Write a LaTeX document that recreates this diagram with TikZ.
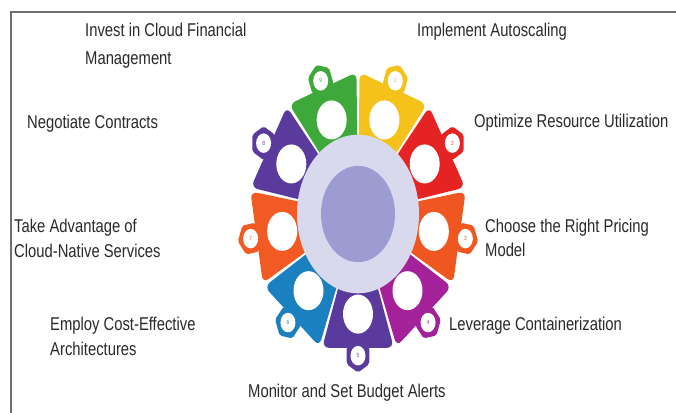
\documentclass[tikz,border=0pt]{standalone}
\usepackage{fontspec}
\setmainfont{Liberation Sans}[FakeStretch=0.8]
\begin{document}
\definecolor{segA}{HTML}{F5C21B}
\definecolor{segB}{HTML}{E52322}
\definecolor{segC}{HTML}{F0561F}
\definecolor{segD}{HTML}{A3229A}
\definecolor{segE}{HTML}{5B3A9E}
\definecolor{segF}{HTML}{1B80C0}
\definecolor{segG}{HTML}{F15A22}
\definecolor{segH}{HTML}{5A3A9C}
\definecolor{segI}{HTML}{3EA93A}
\definecolor{rimlav}{HTML}{D9D9EE}
\definecolor{hublav}{HTML}{9C9CD3}
\definecolor{labelgray}{HTML}{2A2A2A}
\definecolor{framegray}{HTML}{6E6E6E}
\begin{tikzpicture}[x=1pt,y=1pt,
  lbl/.style={anchor=base west,inner sep=0pt,text=labelgray,
    font=\fontsize{18.5}{26}\selectfont},
  numtag/.style={inner sep=0pt,font=\fontsize{6}{6}\selectfont}]
\useasboundingbox (0,0) rectangle (676,412);
\fill[white] (0,0) rectangle (676,412);
% frame
\draw[framegray,line width=1.4] (11,-5) -- (11,400) -- (690,400);

% wheel of nine pieces
\begin{scope}[shift={(358,198)},yscale=1.3]
  \foreach \k/\c in {1/segA,2/segB,3/segC,4/segD,5/segE,6/segF,7/segG,8/segH,9/segI}{
    \pgfmathsetmacro\a{110-40*\k}
    % block
    \fill[\c,rounded corners=7] (\a-19.2:30) -- (\a-19.2:109) -- (\a+19.2:109) -- (\a+19.2:30) -- cycle;
    % hexagonal tab
    \fill[\c,rounded corners=2] (\a:109)
      +(\a:13) -- +(\a+60:13) -- +(\a+120:13) -- +(\a+180:13)
      -- +(\a+240:13) -- +(\a+300:13) -- cycle;
    \fill[white] (\a:109) circle (7.5);
    \node[numtag,text=\c!70!gray] (n\k) at (\a:109) {\k};
    % hole
    \fill[white] (\a:77) circle (15);
  }
  % hub
  \fill[rimlav] (0,0) circle (61);
  \fill[hublav] (0,0) circle (37);
\end{scope}

% labels
\node[lbl] (t9a) at (85,{412-37}) {Invest in Cloud Financial};
\node[lbl] (t9b) at (85,{412-65}) {Management};
\node[lbl] (t1) at (417,{412-37}) {Implement Autoscaling};
\node[lbl] (t8) at (27,{412-129}) {Negotiate Contracts};
\node[lbl] (t2) at (474,{412-128}) {Optimize Resource Utilization};
\node[lbl] (t7a) at (14,{412-233}) {Take Advantage of};
\node[lbl] (t7b) at (14,{412-258}) {Cloud-Native Services};
\node[lbl] (t3a) at (485,{412-233}) {Choose the Right Pricing};
\node[lbl] (t3b) at (485,{412-257}) {Model};
\node[lbl] (t6a) at (50,{412-330}) {Employ Cost-Effective};
\node[lbl] (t6b) at (50,{412-355}) {Architectures};
\node[lbl] (t4) at (449,{412-330}) {Leverage Containerization};
\node[lbl] (t5) at (248,{412-397}) {Monitor and Set Budget Alerts};
\end{tikzpicture}
\end{document}
